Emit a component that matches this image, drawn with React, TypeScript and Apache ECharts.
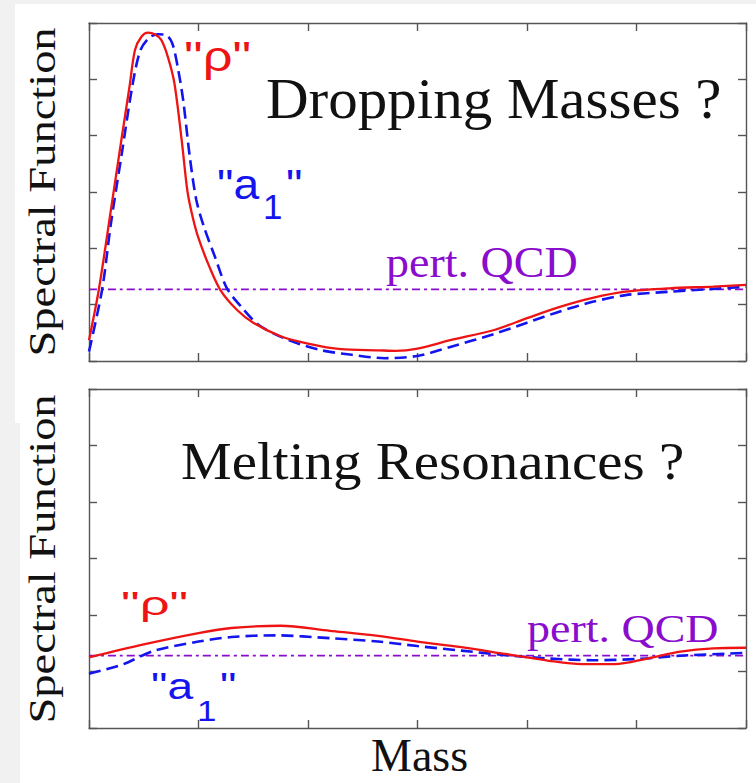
import { useEffect, useRef } from "react";
import * as echarts from "echarts";

const SERIF = '"Liberation Serif", "Times New Roman", serif';
const SANS = '"Liberation Sans", Arial, sans-serif';

// Mass axis: 0..6 in six unlabelled intervals, same for the spectral function axis.
const axisMin = 0;
const axisMax = 6;
const axisStep = 1;

// Upper panel: "Dropping Masses ?"
const pertQCDDropping = 1.27;
const rhoDropping = [
  [0, 0.37], [0.09, 1.27], [0.2, 2.68], [0.3, 3.98], [0.37, 4.87], [0.42, 5.52],
  [0.48, 5.76], [0.54, 5.83], [0.6, 5.8], [0.66, 5.7], [0.72, 5.4], [0.78, 4.93],
  [0.85, 3.86], [0.9, 3.0], [0.95, 2.53], [1.0, 2.18], [1.1, 1.67], [1.2, 1.26],
  [1.35, 0.91], [1.5, 0.68], [1.75, 0.44], [2.0, 0.31], [2.3, 0.21], [2.64, 0.19],
  [2.8, 0.18], [3.0, 0.22], [3.3, 0.37], [3.7, 0.55], [4.0, 0.76], [4.3, 0.96],
  [4.6, 1.12], [4.9, 1.23], [5.3, 1.29], [5.7, 1.32], [6, 1.35],
];
const a1Dropping = [
  [0, 0.17], [0.12, 1.27], [0.2, 2.44], [0.3, 3.69], [0.4, 4.93], [0.47, 5.52],
  [0.55, 5.74], [0.63, 5.8], [0.7, 5.79], [0.76, 5.64], [0.81, 5.22], [0.86, 4.63],
  [0.92, 3.63], [0.98, 2.86], [1.05, 2.38], [1.15, 1.85], [1.26, 1.29], [1.4, 0.94],
  [1.55, 0.64], [1.8, 0.39], [2.1, 0.2], [2.4, 0.11], [2.7, 0.05], [3.0, 0.09],
  [3.3, 0.25], [3.7, 0.48], [4.0, 0.68], [4.3, 0.88], [4.6, 1.05], [4.9, 1.17],
  [5.3, 1.23], [5.7, 1.28], [6, 1.32],
];

// Lower panel: "Melting Resonances ?"
const pertQCDMelting = 1.28;
const rhoMelting = [
  [0, 1.25], [0.5, 1.48], [1.0, 1.68], [1.3, 1.77], [1.75, 1.81], [2.2, 1.72],
  [2.64, 1.63], [3.0, 1.53], [3.4, 1.43], [3.8, 1.31], [4.2, 1.19], [4.5, 1.13],
  [4.8, 1.13], [5.1, 1.23], [5.4, 1.35], [5.7, 1.41], [6, 1.42],
];
const a1Melting = [
  [0, 0.96], [0.3, 1.12], [0.6, 1.37], [1.0, 1.53], [1.3, 1.61], [1.7, 1.64],
  [2.2, 1.59], [2.64, 1.53], [3.0, 1.45], [3.4, 1.37], [3.8, 1.29], [4.2, 1.23],
  [4.6, 1.2], [5.0, 1.22], [5.4, 1.28], [6, 1.33],
];

const RED = "#ee1414";
const BLUE = "#1414ee";
const PURPLE = "#8a0ccc";
const FRAME = "#555555";

function frameAxis(gridIndex: number, position: string) {
  return {
    type: "value",
    gridIndex,
    position,
    min: axisMin,
    max: axisMax,
    interval: axisStep,
    axisLine: { show: true, onZero: false, lineStyle: { color: FRAME, width: 1.4 } },
    axisTick: { show: true, inside: true, length: 8, lineStyle: { color: FRAME, width: 1.4 } },
    axisLabel: { show: false },
    splitLine: { show: false },
  };
}

function curve(data: number[][], grid: number, color: string, type: any, width: number) {
  return {
    type: "line",
    xAxisIndex: grid * 2,
    yAxisIndex: grid * 2,
    data,
    symbol: "none",
    smooth: 0.3,
    silent: true,
    lineStyle: { color, width, type },
  };
}

function pertLine(level: number, grid: number) {
  return curve([[axisMin, level], [axisMax, level]], grid, PURPLE, [8, 4, 3, 4], 1.7);
}

function text(
  value: string,
  x: number,
  y: number,
  fontSize: number,
  fill: string,
  fontFamily: string,
  extra: Record<string, any> = {},
  align = "left",
) {
  return {
    type: "text",
    x,
    y,
    silent: true,
    z: 20,
    ...extra,
    style: { text: value, fontSize, fontFamily, fill, align, verticalAlign: "middle" },
  };
}

export default function App() {
  const ref = useRef<HTMLDivElement | null>(null);

  useEffect(() => {
    if (!ref.current) return;
    const chart = echarts.init(ref.current, undefined, { renderer: "svg" });
    chart.setOption({
      animation: false,
      grid: [
        { left: 89, top: 23, width: 657, height: 338 },
        { left: 89, top: 389, width: 657, height: 339 },
      ],
      xAxis: [frameAxis(0, "bottom"), frameAxis(0, "top"), frameAxis(1, "bottom"), frameAxis(1, "top")],
      yAxis: [frameAxis(0, "left"), frameAxis(0, "right"), frameAxis(1, "left"), frameAxis(1, "right")],
      series: [
        pertLine(pertQCDDropping, 0),
        curve(a1Dropping, 0, BLUE, [12, 6], 2.6),
        curve(rhoDropping, 0, RED, "solid", 2.3),
        pertLine(pertQCDMelting, 1),
        curve(a1Melting, 1, BLUE, [12, 6], 2.6),
        curve(rhoMelting, 1, RED, "solid", 2.3),
      ],
      graphic: [
        { type: "rect", z: -10, silent: true, shape: { x: 0, y: 0, width: 756, height: 783 }, style: { fill: "#f1f1f1" } },
        { type: "rect", z: -9, silent: true, shape: { x: 15, y: 4, width: 741, height: 779 }, style: { fill: "#ffffff" } },
        { type: "rect", z: -8, silent: true, shape: { x: 15, y: 423, width: 5, height: 360 }, style: { fill: "#f1f1f1" } },

        text("Spectral Function", 42, 192, 46.5, "#111", SERIF, { rotation: Math.PI / 2, scaleY: 0.8 }, "center"),
        text("Spectral Function", 42, 559, 46.5, "#111", SERIF, { rotation: Math.PI / 2, scaleY: 0.8 }, "center"),
        text("Mass", 371, 755, 46, "#111", SERIF),

        text("Dropping Masses ?", 266, 99, 59, "#111", SERIF, { scaleY: 0.96 }),
        text("pert. QCD", 386, 262, 46, PURPLE, SERIF, { scaleY: 0.95 }),
        text('"ρ"', 184, 56, 42, RED, SANS, { scaleX: 1.25 }),
        text('"a', 217, 184, 42, BLUE, SANS, { scaleX: 1.1 }),
        text("1", 263, 206, 35, BLUE, SANS),
        text('"', 286, 184, 42, BLUE, SANS, { scaleX: 1.1 }),

        text("Melting Resonances ?", 181, 461, 57, "#111", SERIF, { scaleY: 0.93 }),
        text("pert. QCD", 527, 628, 46, PURPLE, SERIF, { scaleY: 0.89 }),
        text('"ρ"', 121, 603, 42, RED, SANS, { scaleX: 1.25, scaleY: 0.8 }),
        text('"a', 151, 686, 42, BLUE, SANS, { scaleX: 1.1, scaleY: 0.9 }),
        text("1", 197, 711, 35, BLUE, SANS, { scaleY: 0.85 }),
        text('"', 220, 686, 42, BLUE, SANS, { scaleX: 1.1, scaleY: 0.9 }),
      ],
    });
    return () => chart.dispose();
  }, []);

  return (
    <div
      ref={ref}
      style={{ position: "absolute", left: 0, top: 0, width: 756, height: 783 }}
    />
  );
}
